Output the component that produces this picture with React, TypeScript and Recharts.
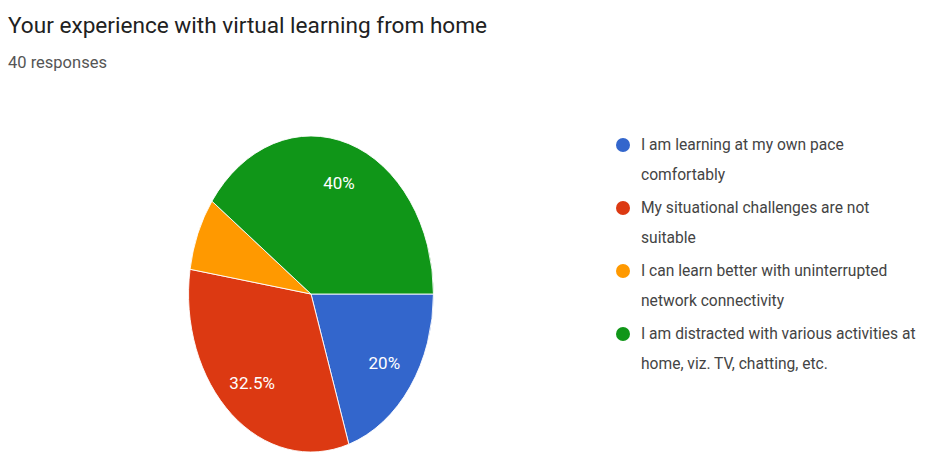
import React from 'react';
import { PieChart, Pie, Cell } from 'recharts';

const title = 'Your experience with virtual learning from home';
const subtitle = '40 responses';
const categories = [
  'I am learning at my own pace comfortably',
  'My situational challenges are not suitable',
  'I can learn better with uninterrupted network connectivity',
  'I am distracted with various activities at home, viz. TV, chatting, etc.',
];
const values = [8, 13, 3, 16];
const colors = ['#3366cc', '#dc3912', '#ff9900', '#109618'];

const SX = 0.775;
const RAD = Math.PI / 180;
const FONT = 'Roboto, "Noto Sans", Arial, sans-serif';

const data = categories.map((name, i) => ({ name, value: values[i] }));

const renderLabel = (props: any) => {
  const { cx, cy, midAngle, outerRadius, percent } = props;
  if (percent < 0.1) return null;
  const r = outerRadius * 0.74;
  const x = cx + r * Math.cos(-midAngle * RAD);
  const y = cy + r * Math.sin(-midAngle * RAD);
  const txt = `${+(percent * 100).toFixed(1)}%`;
  return (
    <text
      transform={`translate(${x},${y}) scale(${1 / SX},1)`}
      x={0}
      y={0}
      fill="#ffffff"
      fontSize={17}
      fontFamily={FONT}
      textAnchor="middle"
      dominantBaseline="central"
    >
      {txt}
    </text>
  );
};

export default function App() {
  return (
    <div
      style={{
        position: 'absolute',
        left: 0,
        top: 0,
        width: 925,
        height: 456,
        background: '#ffffff',
        overflow: 'hidden',
        fontFamily: FONT,
      }}
    >
      <div
        style={{
          position: 'absolute',
          left: 8,
          top: 14,
          fontSize: 22.6,
          lineHeight: '23px',
          color: '#212121',
          whiteSpace: 'nowrap',
        }}
      >
        {title}
      </div>
      <div
        style={{
          position: 'absolute',
          left: 8,
          top: 55,
          fontSize: 16.5,
          lineHeight: '16px',
          color: '#555555',
          whiteSpace: 'nowrap',
        }}
      >
        {subtitle}
      </div>
      <div
        style={{
          position: 'absolute',
          left: 140.5,
          top: 124,
          width: 340,
          height: 340,
          transform: `scaleX(${SX})`,
          transformOrigin: '170px 170px',
        }}
      >
        <PieChart width={340} height={340} margin={{ top: 0, right: 0, bottom: 0, left: 0 }}>
          <Pie
            data={data}
            dataKey="value"
            nameKey="name"
            cx={170}
            cy={170}
            outerRadius={158}
            startAngle={0}
            endAngle={-360}
            stroke="#ffffff"
            strokeWidth={1}
            label={renderLabel}
            labelLine={false}
            isAnimationActive={false}
          >
            {data.map((d, i) => (
              <Cell key={d.name} fill={colors[i]} />
            ))}
          </Pie>
        </PieChart>
      </div>
      <div style={{ position: 'absolute', left: 616, top: 130, width: 309 }}>
        {categories.map((c, i) => (
          <div key={c} style={{ display: 'flex', alignItems: 'flex-start', marginBottom: 3 }}>
            <div
              style={{
                width: 14,
                height: 14,
                borderRadius: 7,
                background: colors[i],
                marginTop: 8,
                marginRight: 11,
                flex: '0 0 auto',
              }}
            />
            <div
              style={{
                fontSize: 15.6,
                lineHeight: '30px',
                color: '#444444',
                width: 287,
              }}
            >
              {c}
            </div>
          </div>
        ))}
      </div>
    </div>
  );
}
